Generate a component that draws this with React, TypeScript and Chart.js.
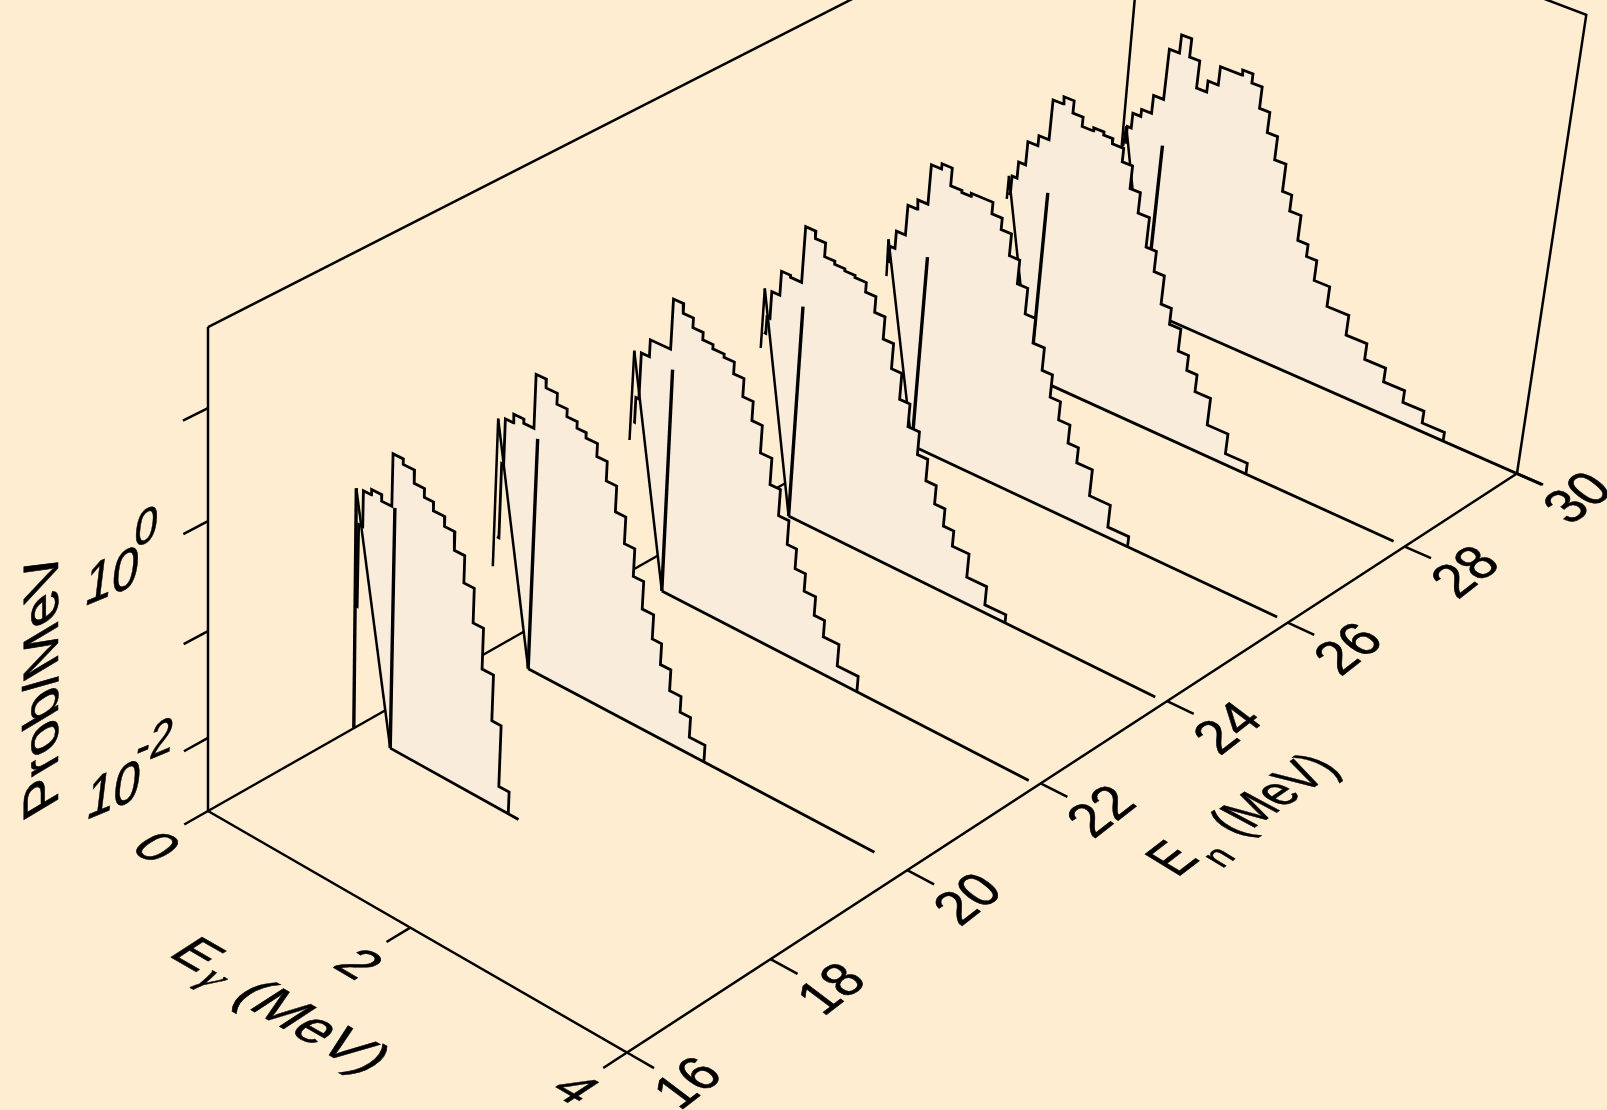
import React, { useEffect, useRef } from "react";
import { Chart, registerables } from "chart.js";
Chart.register(...registerables);

const W = 1607, H = 1110;
const BG = "rgb(254,237,209)";
const FILL = "rgb(249,236,219)";
const INK = "#000";

const E_RANGE = [0, 4];
const EN_RANGE = [16, 30];
const LOG_RANGE = [-2.7, 1.7];
const E_TICKS = [0, 2, 4];
const EN_TICKS = [16, 18, 20, 22, 24, 26, 28, 30];
const EN_TICK_POS = [16, 17.96, 19.92, 21.93, 23.93, 25.93, 27.96, 30];
const LOG_TICKS = [-2, -1, 0, 1];

// En (MeV) of each histogram
const energies = [18, 20, 22, 24, 26, 28, 30];

const edges18 = [-0.02,0.00,0.04,0.12,0.22,0.32,0.42,0.53,0.63,0.72,0.83,0.93,1.03,1.13,1.23,1.34,1.43,1.53];
const logP18 = [-1.53,-0.76,-0.43,-0.38,-0.44,0.04,-0.01,-0.13,-0.21,-0.29,-0.38,-0.55,-0.80,-1.12,-1.50,-1.93,-2.51];
const spike18 = [[-0.01,-2.71],[-0.03,-0.44],[0.36,-2.71],[0.35,-0.44]];
const edges20 = [-0.02,0.00,0.02,0.10,0.20,0.30,0.40,0.51,0.61,0.71,0.80,0.91,1.01,1.11,1.21,1.31,1.41,1.52,1.61,1.71,1.82,1.92,2.07];
const logP20 = [-1.62,-0.91,-0.48,-0.40,-0.44,0.06,-0.02,-0.12,-0.19,-0.25,-0.30,-0.42,-0.60,-0.84,-1.09,-1.35,-1.61,-1.84,-2.04,-2.24,-2.39,-2.58];
const spike20 = [[-0.05,-1.92],[-0.05,-0.51],[0.34,-2.73],[0.34,-0.52]];
const edges22 = [-0.03,-0.02,0.01,0.09,0.29,0.39,0.49,0.59,0.69,0.80,0.90,1.00,1.10,1.20,1.31,1.41,1.51,1.60,1.70,1.81,1.91,2.06,2.26];
const logP22 = [-1.23,-0.99,-0.55,-0.39,0.08,-0.01,-0.10,-0.17,-0.21,-0.24,-0.35,-0.52,-0.70,-0.96,-1.21,-1.46,-1.69,-1.88,-2.05,-2.23,-2.39,-2.60];
const spike22 = [[-0.06,-1.42],[-0.06,-0.56],[0.34,-2.72],[0.32,-0.57]];
const edges24 = [-0.04,-0.02,0.01,0.09,0.18,0.29,0.39,0.49,0.59,0.69,0.79,0.90,1.00,1.10,1.20,1.30,1.40,1.51,1.61,1.71,1.81,1.91,2.07,2.26,2.46];
const logP24 = [-1.05,-0.89,-0.63,-0.40,-0.42,0.11,0.04,-0.09,-0.12,-0.14,-0.16,-0.25,-0.40,-0.61,-0.85,-1.10,-1.32,-1.54,-1.75,-1.93,-2.10,-2.25,-2.48,-2.66];
const spike24 = [[-0.06,-1.21],[-0.06,-0.63],[0.33,-2.71],[0.32,-0.64]];
const edges26 = [-0.05,-0.04,0.01,0.10,0.19,0.29,0.39,0.49,0.60,0.69,0.90,1.00,1.10,1.20,1.30,1.40,1.51,1.61,1.71,1.82,1.92,2.07,2.27,2.47];
const logP26 = [-1.01,-0.86,-0.69,-0.40,-0.31,0.07,0.12,-0.05,-0.07,-0.04,-0.15,-0.26,-0.47,-0.70,-0.95,-1.19,-1.41,-1.63,-1.81,-1.99,-2.14,-2.40,-2.62];
const spike26 = [[-0.05,-1.16],[-0.06,-0.80],[0.34,-2.70],[0.33,-0.81]];
const edges28 = [-0.04,-0.02,0.03,0.10,0.20,0.30,0.40,0.50,0.60,0.71,0.81,0.90,1.01,1.11,1.21,1.32,1.42,1.52,1.62,1.73,1.83,1.93,2.08,2.28,2.49];
const logP28 = [-0.97,-0.79,-0.63,-0.40,-0.30,0.09,0.16,0.04,-0.05,-0.02,-0.05,-0.10,-0.23,-0.45,-0.65,-0.94,-1.14,-1.42,-1.58,-1.80,-1.95,-2.12,-2.39,-2.59];
const spike28 = [[-0.05,-1.03],[-0.05,-0.80],[0.35,-2.67],[0.34,-0.81]];
const edges30 = [-0.01,0.00,0.04,0.12,0.22,0.32,0.42,0.52,0.62,0.72,0.82,1.03,1.13,1.23,1.33,1.43,1.54,1.63,1.74,1.84,1.94,2.09,2.30,2.50,2.70,2.90,3.10,3.31];
const logP30 = [-1.06,-0.90,-0.75,-0.68,-0.50,0.00,0.18,0.00,-0.27,-0.16,0.02,0.07,-0.02,-0.23,-0.43,-0.66,-0.93,-1.09,-1.34,-1.46,-1.66,-1.86,-2.06,-2.22,-2.36,-2.48,-2.60];
const spike30 = [[-0.02,-1.11],[-0.01,-0.90],[0.37,-2.64],[0.36,-0.95]];

const allEdges = [edges18, edges20, edges22, edges24, edges26, edges28, edges30];
const allLogP = [logP18, logP20, logP22, logP24, logP26, logP28, logP30];
const allSpikes = [spike18, spike20, spike22, spike24, spike26, spike28, spike30];
const baselineEndE = [1.63, 3.66, 3.86, 3.86, 3.87, 3.88, 4.23];
const baselineEndLog = [-2.72, -2.75, -2.775, -2.76, -2.735, -2.72, -2.705];

// Camera of the 3-D box: a projective map of (Eγ, En, log P) on to the view plane.
const cam = { a: 377.2, b: 1087.8, c: 208, d: 171.35, e: -460.15, f: 811, g: -0.06665, h: 0.1695, p: -12.5, q: -503.6, r: -0.06 };
function project(E: number, En: number, L: number) {
  const u = (E - E_RANGE[0]) / (E_RANGE[1] - E_RANGE[0]);
  const v = (En - EN_RANGE[0]) / (EN_RANGE[1] - EN_RANGE[0]);
  const w = (L - LOG_RANGE[0]) / (LOG_RANGE[1] - LOG_RANGE[0]);
  const den = cam.g * u + cam.h * v + 1 + cam.r * w;
  return {
    x: (cam.a * u + cam.b * v + cam.c + cam.p * w) / den,
    y: (cam.d * u + cam.e * v + cam.f + cam.q * w) / den,
  };
}

type V = { x: number; y: number };
const add = (p: V, dx: number, dy: number): V => ({ x: p.x + dx, y: p.y + dy });
const scaled = (d: V, s: number): V => ({ x: d.x * s, y: d.y * s });
const U_DIR: V = { x: 0.866, y: 0.5 };
const V_DIR: V = { x: 0.838, y: -0.545 };

function buildDatasets() {
  const sets: any[] = [];
  const line = (data: V[], width = 2.5) => sets.push({ data, showLine: true, borderColor: INK, borderWidth: width, pointRadius: 0, fill: false, borderJoinStyle: "miter", borderCapStyle: "butt", tension: 0 });
  const [E0, E1] = E_RANGE, [N0, N1] = EN_RANGE, [L0, L1] = LOG_RANGE;
  const tickDV = 0.0225 * (N1 - N0);
  const tickDU = 0.06 * (E1 - E0);
  const topBack = add(project(E0, N1, L1), -8.5, -14);
  const topRight = add(project(E1, N1, L1), -6, -3);
  // back of the box
  line([project(E0, N0, L0), project(E0, N1, L0)]);
  line([project(E0, N1, L0), topBack]);
  line([project(E0, N0, L1), topBack, topRight, project(E1, N1, L0)]);
  line([project(E0, N0, L0), project(E0, N0, L1)]);
  // histograms, far to near
  for (let i = energies.length - 1; i >= 0; i--) {
    const En = energies[i], edges = allEdges[i], logP = allLogP[i], sp = allSpikes[i];
    const hist: V[] = [];
    logP.forEach((l, k) => { hist.push(project(edges[k], En, l)); hist.push(project(edges[k + 1], En, l)); });
    const lastE = edges[edges.length - 1];
    const t = (lastE - sp[2][0]) / (baselineEndE[i] - sp[2][0]);
    const last = project(lastE, En, sp[2][1] + t * (baselineEndLog[i] - sp[2][1]));
    const base = project(sp[2][0], En, sp[2][1]);
    sets.push({ data: [base, ...hist.slice(2), last], showLine: true, borderWidth: 0, borderColor: "rgba(0,0,0,0)", backgroundColor: FILL, fill: "shape", pointRadius: 0, tension: 0 });
    line([...hist, last], 2.8);
    line(sp.slice(0, 2).map(([e, l]) => project(e, En, l)), i === 0 ? 3.4 : 2.5);
    line(sp.slice(1, 3).map(([e, l]) => project(e, En, l)), 2.5);
    line(sp.slice(2, 4).map(([e, l]) => project(e, En, l)), 3.4);
    line([base, project(baselineEndE[i], En, baselineEndLog[i])], 2.8);
  }
  // front of the box and the ticks
  line([project(E0, N0, L0), project(E1, N0, L0), project(E1, N1, L0)]);
  LOG_TICKS.forEach((l) => line([project(E0, N0, l), project(E0, N0 - tickDV, l)]));
  E_TICKS.forEach((e) => line([project(e, N0, L0), project(e, N0 - tickDV, L0)]));
  EN_TICK_POS.forEach((n) => line([project(E1, n, L0), project(E1 + tickDU, n, L0)]));
  sets.forEach((s, k) => { s.order = sets.length - k; });
  return sets;
}

const SANS = "'Liberation Sans', Arial, sans-serif";

const labelPlugin = {
  id: "boxText",
  afterDraw(chart: any) {
    const ctx = chart.ctx as CanvasRenderingContext2D;
    const sx = chart.scales.x, sy = chart.scales.y;
    const at = (p: V): V => ({ x: sx.getPixelForValue(p.x), y: sy.getPixelForValue(p.y) });
    const put = (t: string, p: V, xv: V, up: V, font: string, center = true) => {
      ctx.save();
      ctx.transform(xv.x, xv.y, -up.x, -up.y, p.x, p.y);
      ctx.font = font;
      ctx.fillStyle = INK;
      ctx.strokeStyle = INK;
      ctx.lineWidth = 0.6;
      ctx.textAlign = center ? "center" : "left";
      ctx.textBaseline = center ? "middle" : "alphabetic";
      ctx.fillText(t, 0, 0);
      ctx.strokeText(t, 0, 0);
      ctx.restore();
    };
    const [E0, E1] = E_RANGE, [N0] = EN_RANGE, [L0] = LOG_RANGE;
    // Eγ tick labels lie in the floor, running along Eγ
    E_TICKS.forEach((e) => put(String(e), add(at(project(e, N0, L0)), -54, 38), U_DIR, V_DIR, `54px ${SANS}`));
    // En tick labels lie in the floor, running along En
    const enX: V = { x: 0.79, y: -0.61 }, enUp: V = { x: -0.8, y: -0.6 };
    EN_TICKS.forEach((n, k) => put(String(n), add(at(project(E1, EN_TICK_POS[k], L0)), 63, 26 + (30 - n) * 0.45), scaled(enX, 0.92), enUp, `56px ${SANS}`));
    // log P tick labels
    const zx: V = { x: 0.8, y: -0.33 }, zup: V = { x: 0.12, y: -0.99 };
    const c0 = add(at(project(E0, N0, 0)), -96, 58);
    put("10", c0, zx, zup, `60px ${SANS}`);
    put("0", add(c0, 34, -50), zx, zup, `52px ${SANS}`);
    const c2 = add(at(project(E0, N0, -2)), -94.4, 55);
    put("10", c2, zx, zup, `60px ${SANS}`);
    put("-2", add(c2, 41, -49), zx, zup, `52px ${SANS}`);
    // axis titles
    put("Prob/MeV", { x: 58, y: 804 }, { x: 0, y: -1 }, { x: -0.857, y: 0.514 }, `58px ${SANS}`, false);
    put("E", { x: 167, y: 955 }, U_DIR, V_DIR, `54px ${SANS}`, false);
    put("γ", { x: 195, y: 981 }, U_DIR, V_DIR, `italic 44px 'Liberation Serif', serif`, false);
    put("(MeV)", { x: 230, y: 998 }, U_DIR, V_DIR, `57px ${SANS}`, false);
    put("E", { x: 1177, y: 878 }, scaled(enX, 0.76), { x: -0.85, y: -0.52 }, `60px ${SANS}`, false);
    put("n", { x: 1222, y: 869 }, scaled(enX, 0.85), { x: -0.85, y: -0.52 }, `40px ${SANS}`, false);
    put("(MeV)", { x: 1239, y: 838 }, { x: 0.647, y: -0.437 }, { x: -0.88, y: -0.47 }, `58px ${SANS}`, false);
  },
};

export default function App() {
  const ref = useRef<HTMLCanvasElement | null>(null);
  useEffect(() => {
    document.body.style.margin = "0";
    document.body.style.background = BG;
    document.documentElement.style.background = BG;
    const chart = new Chart(ref.current as HTMLCanvasElement, {
      type: "scatter",
      data: { datasets: buildDatasets() },
      options: {
        animation: false,
        responsive: false,
        maintainAspectRatio: false,
        devicePixelRatio: 1,
        events: [],
        layout: { padding: 0 },
        plugins: { legend: { display: false }, tooltip: { enabled: false } },
        scales: {
          x: { type: "linear", min: 0, max: W, display: false },
          y: { type: "linear", min: 0, max: H, reverse: true, display: false },
        },
      },
      plugins: [labelPlugin],
    } as any);
    return () => chart.destroy();
  }, []);
  return <canvas ref={ref} width={W} height={H} style={{ display: "block", width: W, height: H, background: BG }} />;
}
